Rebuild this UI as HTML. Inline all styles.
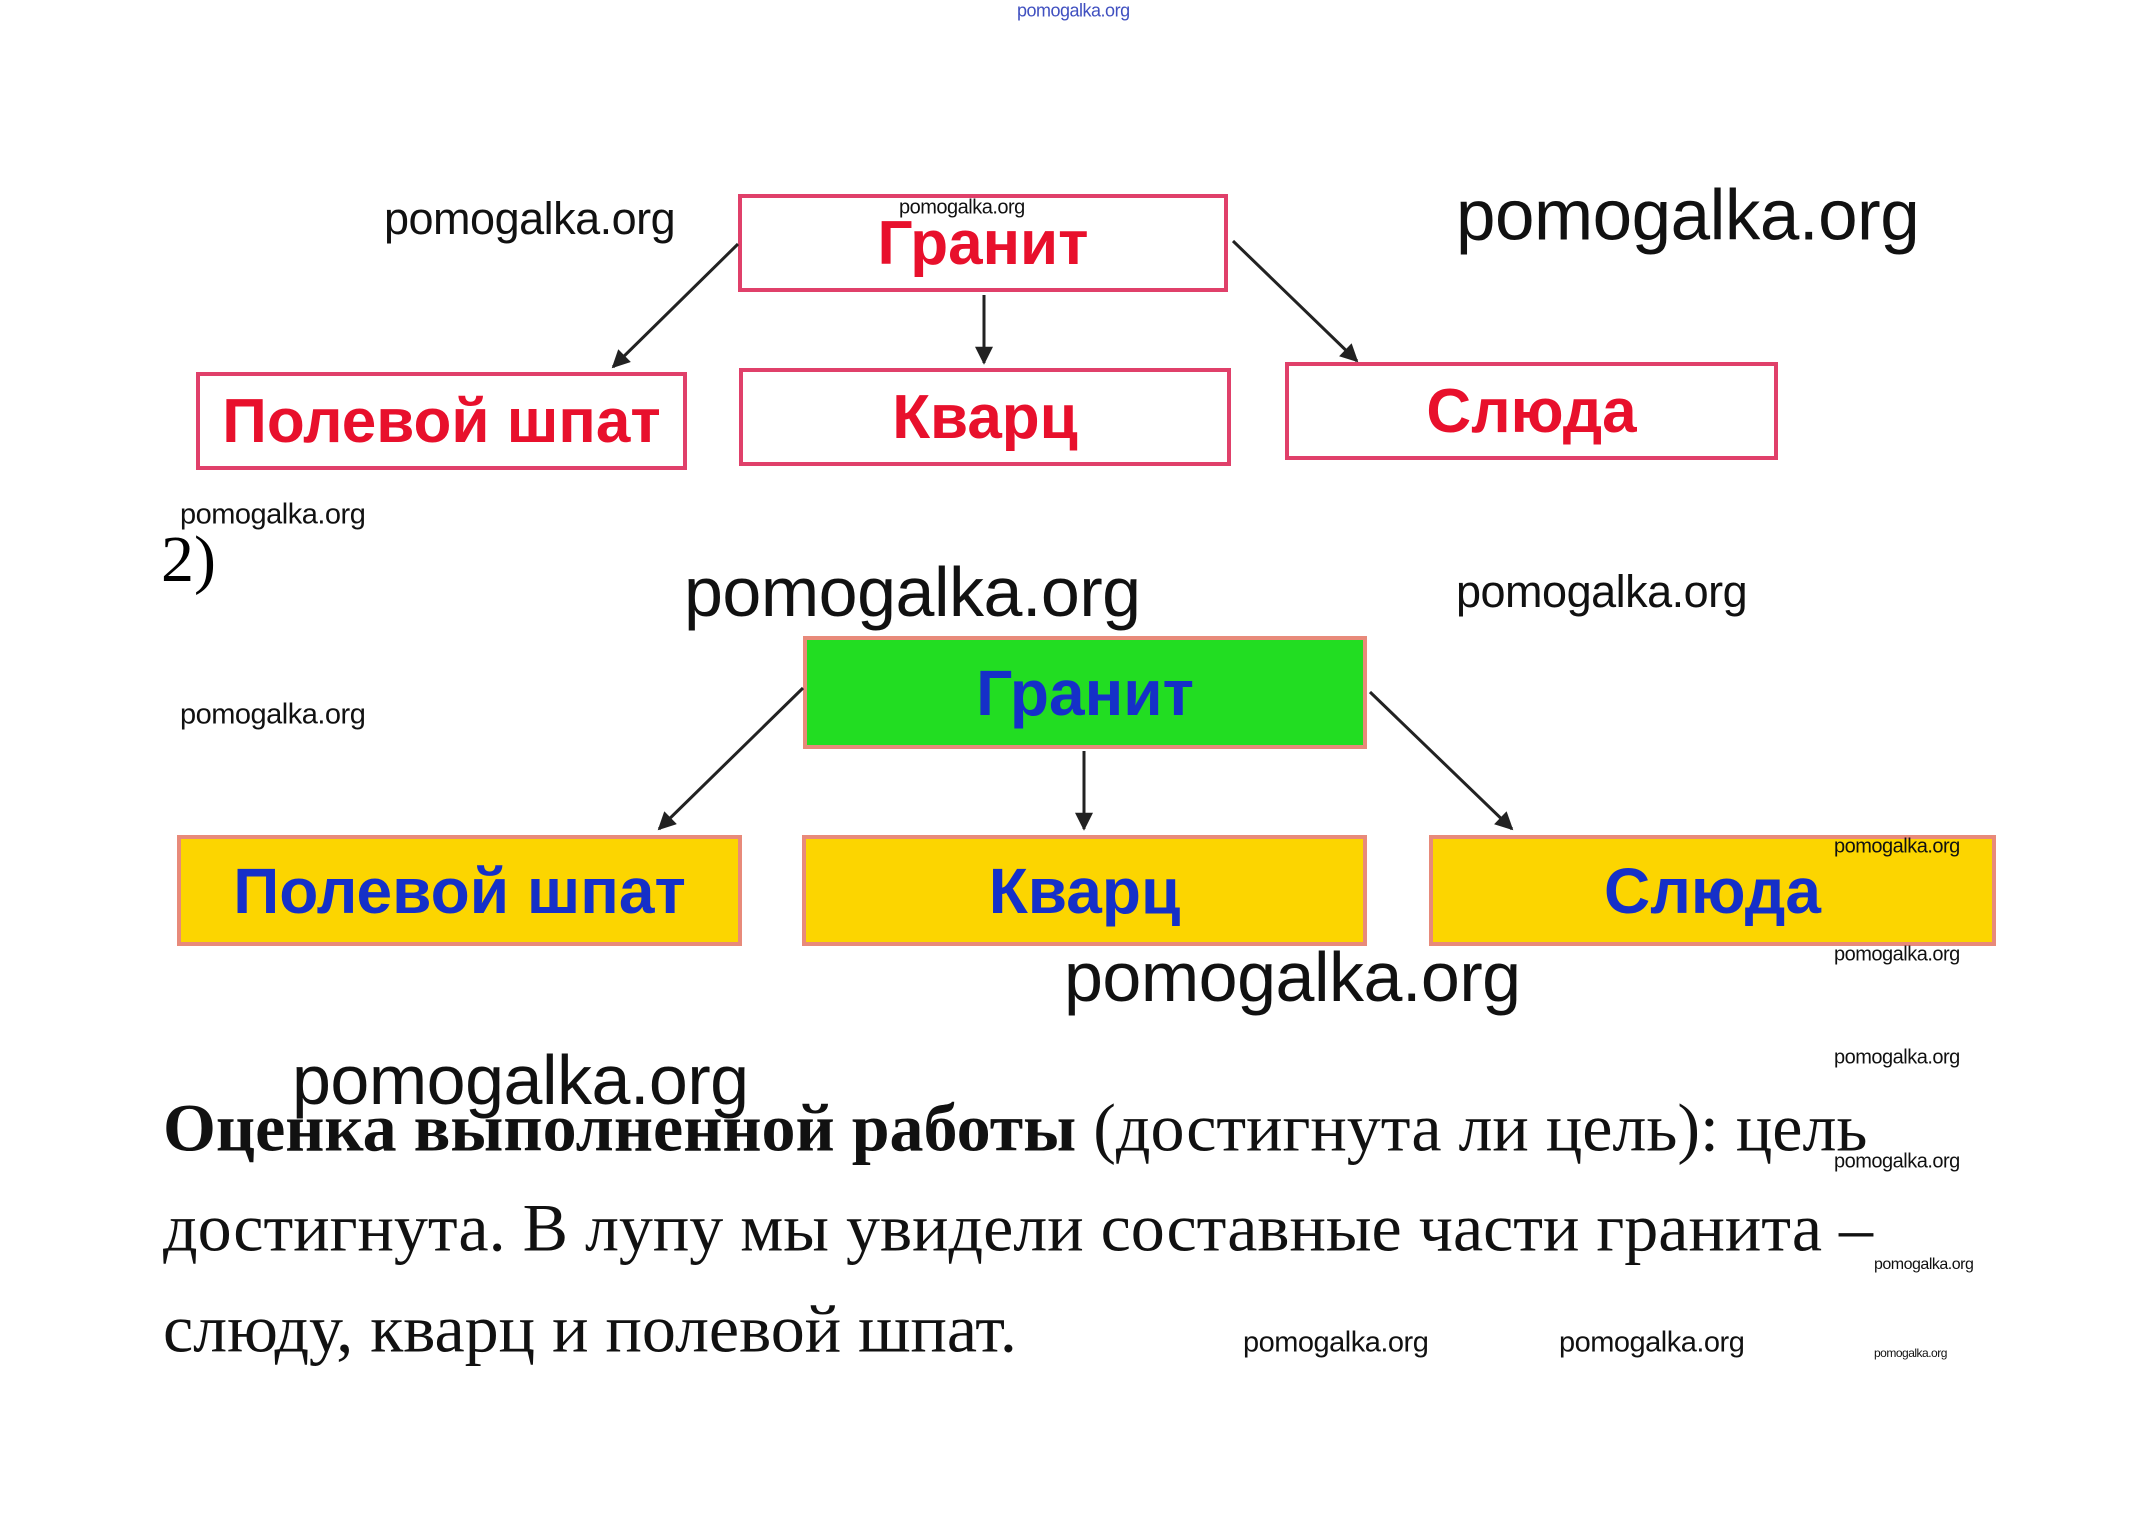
<!DOCTYPE html>
<html><head><meta charset="utf-8"><style>
body{margin:0;width:2151px;height:1540px;background:#fff;position:relative;overflow:hidden;font-family:"Liberation Sans",sans-serif}
.a{position:absolute;white-space:nowrap}
.w{position:absolute;white-space:nowrap;color:#111;font-family:"Liberation Sans",sans-serif;transform:translate(0,-50%);letter-spacing:-0.5px}
.box{position:absolute;box-sizing:border-box;display:flex;align-items:center;justify-content:center;font-weight:bold;font-family:"Liberation Sans",sans-serif}
.r{border:4px solid #e0406a;color:#e8102c;background:#fff;font-size:62px}
.y{border:4px solid #e88a7a;background:#fcd500;color:#1530c8;font-size:64px}
.t{position:absolute;left:163px;font-family:"Liberation Serif",serif;font-size:68px;color:#111;white-space:nowrap;transform:translate(0,-50%)}
</style></head><body>
<div class="w" style="left:1017px;top:11px;font-size:18px;color:#4050c0">pomogalka.org</div>

<div class="box r" style="left:738px;top:194px;width:490px;height:98px">Гранит</div>
<div class="box r" style="left:196px;top:372px;width:491px;height:98px">Полевой шпат</div>
<div class="box r" style="left:739px;top:368px;width:492px;height:98px">Кварц</div>
<div class="box r" style="left:1285px;top:362px;width:493px;height:98px">Слюда</div>

<div class="box" style="left:803px;top:636px;width:564px;height:113px;background:#22dd22;border:4px solid #e88a7a;color:#1530c8;font-size:64px">Гранит</div>
<div class="box y" style="left:177px;top:835px;width:565px;height:111px">Полевой шпат</div>
<div class="box y" style="left:802px;top:835px;width:565px;height:111px">Кварц</div>
<div class="box y" style="left:1429px;top:835px;width:567px;height:111px">Слюда</div>

<svg class="a" style="left:0;top:0" width="2151" height="1540">
<defs>
<marker id="M" viewBox="0 0 10 10" refX="9" refY="5" markerWidth="22" markerHeight="18" orient="auto" markerUnits="userSpaceOnUse"><path d="M0,0 L10,5 L0,10 z" fill="#222"/></marker></defs>
<g stroke="#222" stroke-width="3" fill="none" marker-end="url(#M)">
<line x1="738" y1="244" x2="613" y2="367"/>
<line x1="984" y1="295" x2="984" y2="363"/>
<line x1="1233" y1="241" x2="1357" y2="361"/>
<line x1="803" y1="688" x2="659" y2="829"/>
<line x1="1084" y1="751" x2="1084" y2="829"/>
<line x1="1370" y1="692" x2="1512" y2="829"/>
</g></svg>

<div class="w" style="left:384px;top:219px;font-size:45px">pomogalka.org</div>
<div class="w" style="left:899px;top:208px;font-size:20px">pomogalka.org</div>
<div class="w" style="left:1456px;top:216px;font-size:71px">pomogalka.org</div>
<div class="w" style="left:180px;top:515px;font-size:29px">pomogalka.org</div>
<div class="a" style="left:161px;top:522px;font-family:'Liberation Serif',serif;font-size:66px">2)</div>
<div class="w" style="left:684px;top:592px;font-size:70px">pomogalka.org</div>
<div class="w" style="left:1456px;top:592px;font-size:45px">pomogalka.org</div>
<div class="w" style="left:180px;top:715px;font-size:29px">pomogalka.org</div>
<div class="w" style="left:1834px;top:847px;font-size:20px">pomogalka.org</div>
<div class="w" style="left:1834px;top:955px;font-size:20px">pomogalka.org</div>
<div class="w" style="left:1064px;top:977px;font-size:70px">pomogalka.org</div>
<div class="w" style="left:1834px;top:1058px;font-size:20px">pomogalka.org</div>
<div class="w" style="left:292px;top:1080px;font-size:70px">pomogalka.org</div>
<div class="w" style="left:1834px;top:1162px;font-size:20px">pomogalka.org</div>
<div class="w" style="left:1874px;top:1265px;font-size:16px">pomogalka.org</div>
<div class="w" style="left:1874px;top:1353px;font-size:12px">pomogalka.org</div>
<div class="w" style="left:1243px;top:1343px;font-size:29px">pomogalka.org</div>
<div class="w" style="left:1559px;top:1343px;font-size:29px">pomogalka.org</div>

<div class="t" style="top:1128px"><b>Оценка выполненной работы</b> (достигнута ли цель): цель</div>
<div class="t" style="top:1228px">достигнута. В лупу мы увидели составные части гранита –</div>
<div class="t" style="top:1329px">слюду, кварц и полевой шпат.</div>
</body></html>
